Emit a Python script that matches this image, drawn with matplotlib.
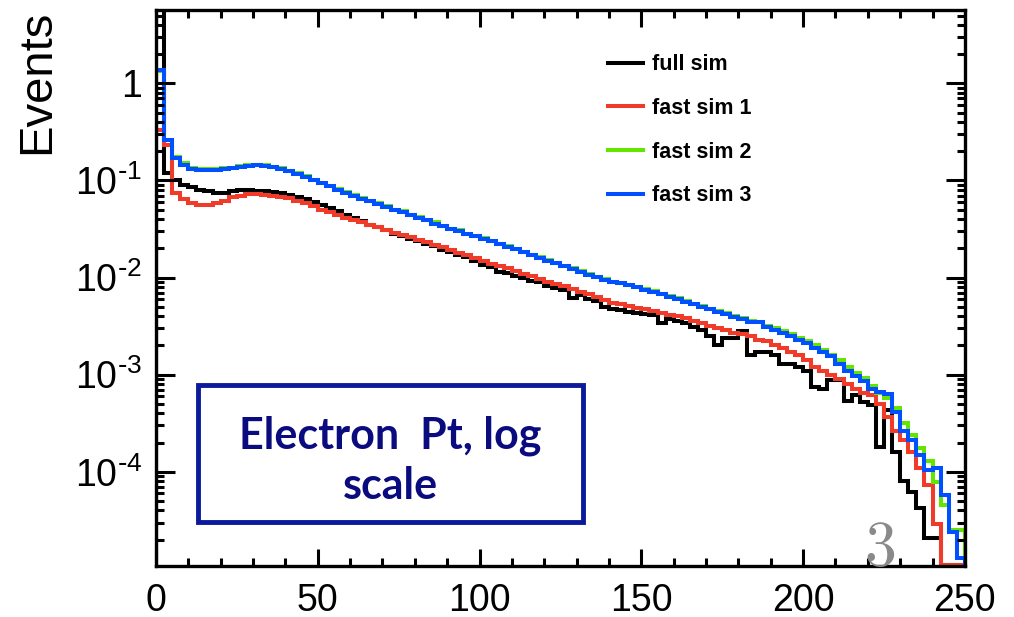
import numpy as np
import matplotlib
matplotlib.use("Agg")
import matplotlib.pyplot as plt
from matplotlib.ticker import FixedLocator, FixedFormatter, MultipleLocator, LogLocator, NullFormatter
from matplotlib.patches import Rectangle

plt.rcParams["font.family"] = ["Liberation Sans", "DejaVu Sans"]
plt.rcParams["mathtext.default"] = "regular"

# electron pt histograms, 100 bins of 2.5 GeV, normalised
pt_lo, pt_hi, n_bins = 0.0, 250.0, 100

full_sim = [
    6.0, 0.12, 0.10, 0.09, 0.085, 0.080, 0.077, 0.075, 0.075, 0.077,
    0.079, 0.079, 0.078, 0.077, 0.076, 0.074, 0.071, 0.068, 0.064, 0.060,
    0.056, 0.052, 0.048, 0.044, 0.041, 0.038, 0.035, 0.033, 0.031, 0.028,
    0.027, 0.025, 0.024, 0.022, 0.021, 0.019, 0.0185, 0.017, 0.0162, 0.0148,
    0.0135, 0.0128, 0.0115, 0.0112, 0.0104, 0.0100, 0.0092, 0.0089, 0.0082, 0.0078,
    0.0074, 0.0061, 0.0066, 0.0060, 0.0057, 0.0050, 0.0047, 0.0046, 0.0044, 0.0043,
    0.0042, 0.0041, 0.0034, 0.0037, 0.0036, 0.0034, 0.0031, 0.0029, 0.0025, 0.0020,
    0.0024, 0.0024, 0.0028, 0.0016, 0.0017, 0.0017, 0.0016, 0.0013, 0.0013, 0.0012,
    0.0011, 0.00075, 0.00072, 0.00089, 0.00089, 0.00053, 0.00062, 0.00052, 0.00049, 0.00018,
    0.00043, 0.00016, 8.1e-5, 6.2e-5, 4.2e-5, 2.1e-5, 2.1e-5, 1.1e-5, 1.1e-5, 1.1e-5,
]

fast_sim_1 = [
    0.33, 0.23, 0.075, 0.064, 0.058, 0.056, 0.056, 0.058, 0.062, 0.067,
    0.070, 0.072, 0.072, 0.071, 0.070, 0.068, 0.066, 0.062, 0.058, 0.054,
    0.050, 0.047, 0.044, 0.041, 0.039, 0.037, 0.035, 0.033, 0.031, 0.029,
    0.0275, 0.026, 0.0245, 0.023, 0.0218, 0.0205, 0.0192, 0.0181, 0.0170, 0.0158,
    0.0147, 0.0139, 0.0131, 0.0124, 0.0116, 0.0110, 0.0103, 0.0097, 0.0091, 0.0086,
    0.0081, 0.0076, 0.0071, 0.0067, 0.0063, 0.0059, 0.0055, 0.0053, 0.0051, 0.0049,
    0.0047, 0.0045, 0.0043, 0.0041, 0.0040, 0.0038, 0.0036, 0.0034, 0.0032, 0.0030,
    0.0029, 0.0027, 0.0026, 0.0025, 0.0023, 0.0022, 0.0020, 0.0019, 0.0017, 0.0016,
    0.0014, 0.0012, 0.0011, 0.00099, 0.0009, 0.0008, 0.00072, 0.00065, 0.00061, 0.0005,
    0.00037, 0.00026, 0.00021, 0.00016, 0.00011, 7.3e-5, 2.9e-5, 1.1e-5, 1.1e-5, 1.1e-5,
]

fast_sim_2 = [
    1.35, 0.26, 0.175, 0.15, 0.135, 0.13, 0.13, 0.131, 0.133, 0.136,
    0.14, 0.143, 0.145, 0.143, 0.139, 0.134, 0.126, 0.119, 0.110, 0.102,
    0.095, 0.088, 0.081, 0.076, 0.071, 0.066, 0.061, 0.058, 0.054, 0.050,
    0.048, 0.044, 0.042, 0.039, 0.037, 0.034, 0.032, 0.031, 0.028, 0.027,
    0.0254, 0.0238, 0.0224, 0.0209, 0.0197, 0.0183, 0.0172, 0.0161, 0.0151, 0.0141,
    0.0133, 0.0124, 0.0117, 0.0108, 0.0102, 0.0096, 0.0091, 0.0088, 0.0084, 0.0080,
    0.0076, 0.0072, 0.0068, 0.0064, 0.0061, 0.0057, 0.0054, 0.0051, 0.0048, 0.0045,
    0.0043, 0.0040, 0.0038, 0.0036, 0.0035, 0.0032, 0.0030, 0.0028, 0.0026, 0.0024,
    0.0022, 0.0020, 0.0018, 0.0016, 0.0014, 0.0012, 0.00105, 0.00092, 0.00076, 0.00064,
    0.00058, 0.00045, 0.00032, 0.00024, 0.000175, 0.00013, 7.8e-5, 4.5e-5, 2.5e-5, 2.5e-5,
]

fast_sim_3 = [
    1.37, 0.26, 0.17, 0.145, 0.132, 0.128, 0.127, 0.128, 0.131, 0.135,
    0.139, 0.142, 0.143, 0.142, 0.138, 0.132, 0.125, 0.117, 0.109, 0.101,
    0.094, 0.087, 0.080, 0.075, 0.070, 0.065, 0.061, 0.057, 0.053, 0.050,
    0.047, 0.044, 0.041, 0.039, 0.036, 0.034, 0.032, 0.030, 0.028, 0.0265,
    0.0252, 0.0237, 0.0222, 0.0207, 0.0195, 0.0182, 0.0170, 0.0160, 0.0149, 0.0140,
    0.0131, 0.0123, 0.0115, 0.0107, 0.0101, 0.0095, 0.0090, 0.0087, 0.0083, 0.0079,
    0.0075, 0.0071, 0.0067, 0.0063, 0.0060, 0.0056, 0.0053, 0.0050, 0.0047, 0.0044,
    0.0042, 0.0039, 0.0037, 0.0035, 0.0035, 0.0031, 0.0029, 0.0027, 0.0025, 0.0023,
    0.0021, 0.0019, 0.0017, 0.00155, 0.0013, 0.0011, 0.00097, 0.00086, 0.00071, 0.00066,
    0.00063, 0.00041, 0.00026, 0.00021, 0.00015, 0.000105, 0.000108, 5.7e-5, 2.4e-5, 1.3e-5,
]

series_names = ["full sim", "fast sim 1", "fast sim 2", "fast sim 3"]
series_colors = ["black", "#F03A2A", "#62E600", "#0050FF"]

x_ticks = [0, 50, 100, 150, 200, 250]
y_ticks = [1e-4, 1e-3, 1e-2, 1e-1, 1]
y_tick_labels = [r"$10^{\text{-}4}$", r"$10^{\text{-}3}$", r"$10^{\text{-}2}$",
                 r"$10^{\text{-}1}$", "1"]

edges = np.linspace(pt_lo, pt_hi, n_bins + 1)

fig = plt.figure(figsize=(10.14, 6.17), dpi=100)
ax = fig.add_axes([0.1538, 0.0827, 0.7978, 0.9011])

for vals, name, col in zip([full_sim, fast_sim_1, fast_sim_2, fast_sim_3],
                           series_names, series_colors):
    ax.stairs(vals, edges, baseline=1e-7, color=col, lw=2.9, label=name)

ax.set_yscale("log")
ax.set_xlim(pt_lo, pt_hi)
ax.set_ylim(1.07e-5, 5.7)

ax.xaxis.set_major_locator(FixedLocator(x_ticks))
ax.xaxis.set_minor_locator(MultipleLocator(10))
ax.yaxis.set_major_locator(FixedLocator(y_ticks))
ax.yaxis.set_major_formatter(FixedFormatter(y_tick_labels))
ax.yaxis.set_minor_locator(LogLocator(base=10, subs=np.arange(2, 10)))
ax.yaxis.set_minor_formatter(NullFormatter())

ax.tick_params(which="both", direction="in", top=True, right=True, width=2.2,
               labelsize=27)
ax.tick_params(axis="x", which="major", length=12, pad=12)
ax.tick_params(axis="y", which="major", length=14, pad=10)
ax.tick_params(which="minor", length=6)
for s in ax.spines.values():
    s.set_linewidth(2.4)

fig.text(37 / 1014, 1 - 82 / 617, "Events", rotation=90, fontsize=34,
         ha="center", va="center")

leg = ax.legend(loc="upper left", bbox_to_anchor=(0.535, 0.955), frameon=False,
                handlelength=1.6, handletextpad=0.45, labelspacing=1.05,
                prop={"weight": "bold", "size": 15.5})

# annotation box
box = Rectangle((198 / 1014, 1 - 522 / 617), 385 / 1014, 137 / 617,
                transform=fig.transFigure, fill=False, edgecolor="#0A1A9A", lw=3.5)
fig.patches.append(box)
fig.text(390 / 1014, 1 - 461 / 617, "Electron  Pt, log\nscale", ha="center",
         va="center", fontsize=31, fontweight="bold", color="#0B0B80",
         family="Lato", linespacing=1.3)

fig.text(880 / 1014, 1 - 550 / 617, "3", family="cmr10", fontsize=46,
         color="#8A8A8A", ha="center", va="center")

fig.savefig("out.png", dpi=100)
